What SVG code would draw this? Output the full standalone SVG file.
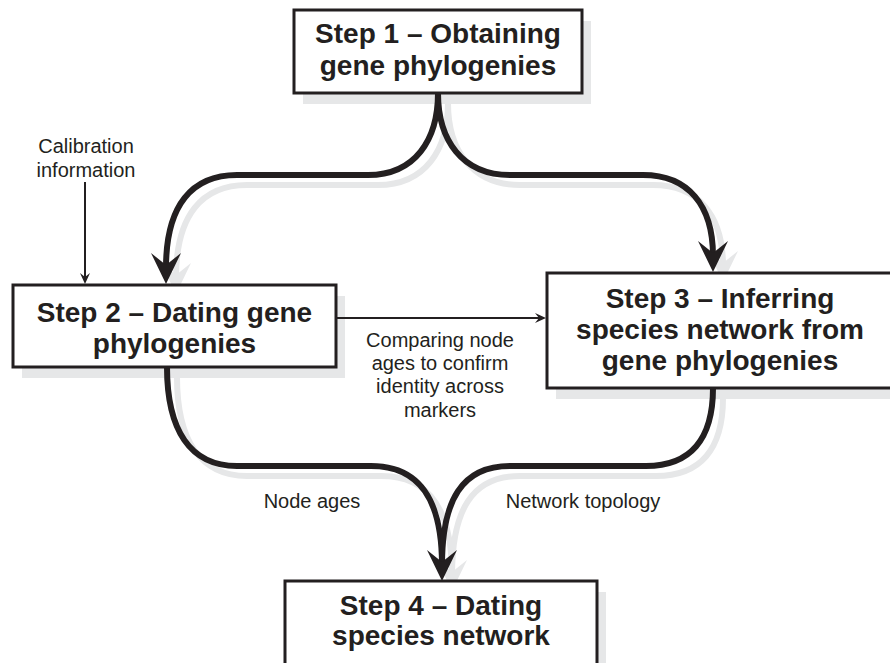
<svg xmlns="http://www.w3.org/2000/svg" xmlns:xlink="http://www.w3.org/1999/xlink" width="890" height="663" viewBox="0 0 890 663">
<style>
.box{fill:#ffffff;stroke:#231f20;stroke-width:3}
.sh{fill:#e6e7e8}
.title{font-family:"Liberation Sans",Arial,sans-serif;font-weight:bold;font-size:28px;fill:#231f20;text-anchor:middle}
.lbl{font-family:"Liberation Sans",Arial,sans-serif;font-size:20px;fill:#231f20;text-anchor:middle}
.thick{fill:none;stroke:currentColor;stroke-width:6}
.thin{fill:none;stroke:#231f20;stroke-width:2}
.head{fill:currentColor}
</style>
<defs>
<path id="ah" d="M0,0 L-15,-31 L0,-19 L15,-31 Z"/>
<path id="ahs" d="M0,0 L-5,-11 L0,-7 L5,-11 Z"/>
<g id="flow">
<path class="thick" d="M438,93 C438,140 415,175 368,175 L237,175 C192,175 166,205 166,268"/>
<path class="thick" d="M438,93 C438,140 462,175 510,175 L643,175 C688,175 713,205 713,256"/>
<path class="thick" d="M167,367 C167,430 190,466 237,466 L371,466 C420,466 442,500 442,565"/>
<path class="thick" d="M713,388 C713,440 690,466 646,466 L510,466 C462,466 442,500 442,565"/>
<use xlink:href="#ah" class="head" transform="translate(166,284)"/>
<use xlink:href="#ah" class="head" transform="translate(713,272)"/>
<use xlink:href="#ah" class="head" transform="translate(442,581)"/>
</g>
</defs>
<g id="connector-shadows" style="color:#e6e7e8">
<use xlink:href="#flow" transform="translate(10,10)"/>
</g>
<g id="box-shadows">
<rect class="sh" x="303" y="21" width="288" height="83"/>
<rect class="sh" x="22" y="296" width="323" height="82"/>
<rect class="sh" x="556" y="284" width="346" height="115"/>
<rect class="sh" x="294" y="592" width="312" height="90"/>
</g>
<g id="connectors" style="color:#231f20">
<use xlink:href="#flow"/>
<path class="thin" d="M85,182 L85,278"/>
<use xlink:href="#ahs" fill="#231f20" transform="translate(85,284)"/>
<path class="thin" d="M336,318 L541,318"/>
<use xlink:href="#ahs" fill="#231f20" transform="translate(546,318) rotate(-90)"/>
</g>
<g id="step1">
<rect class="box" x="294" y="10" width="288" height="83"/>
<text class="title" x="438" y="43">Step 1 – Obtaining</text>
<text class="title" x="438" y="75">gene phylogenies</text>
</g>
<g id="step2">
<rect class="box" x="13" y="285" width="323" height="82"/>
<text class="title" x="174.5" y="322">Step 2 – Dating gene</text>
<text class="title" x="174.5" y="353">phylogenies</text>
</g>
<g id="step3">
<rect class="box" x="547" y="273" width="346" height="115"/>
<text class="title" x="720" y="308">Step 3 – Inferring</text>
<text class="title" x="720" y="339">species network from</text>
<text class="title" x="720" y="370">gene phylogenies</text>
</g>
<g id="step4">
<rect class="box" x="285" y="581" width="312" height="90"/>
<text class="title" x="441" y="615">Step 4 – Dating</text>
<text class="title" x="441" y="645">species network</text>
</g>
<g id="labels">
<text class="lbl" x="86" y="153">Calibration</text>
<text class="lbl" x="86" y="177">information</text>
<text class="lbl" x="440" y="347">Comparing node</text>
<text class="lbl" x="440" y="370">ages to confirm</text>
<text class="lbl" x="440" y="393">identity across</text>
<text class="lbl" x="440" y="417">markers</text>
<text class="lbl" x="312" y="508">Node ages</text>
<text class="lbl" x="583" y="508">Network topology</text>
</g>
</svg>
